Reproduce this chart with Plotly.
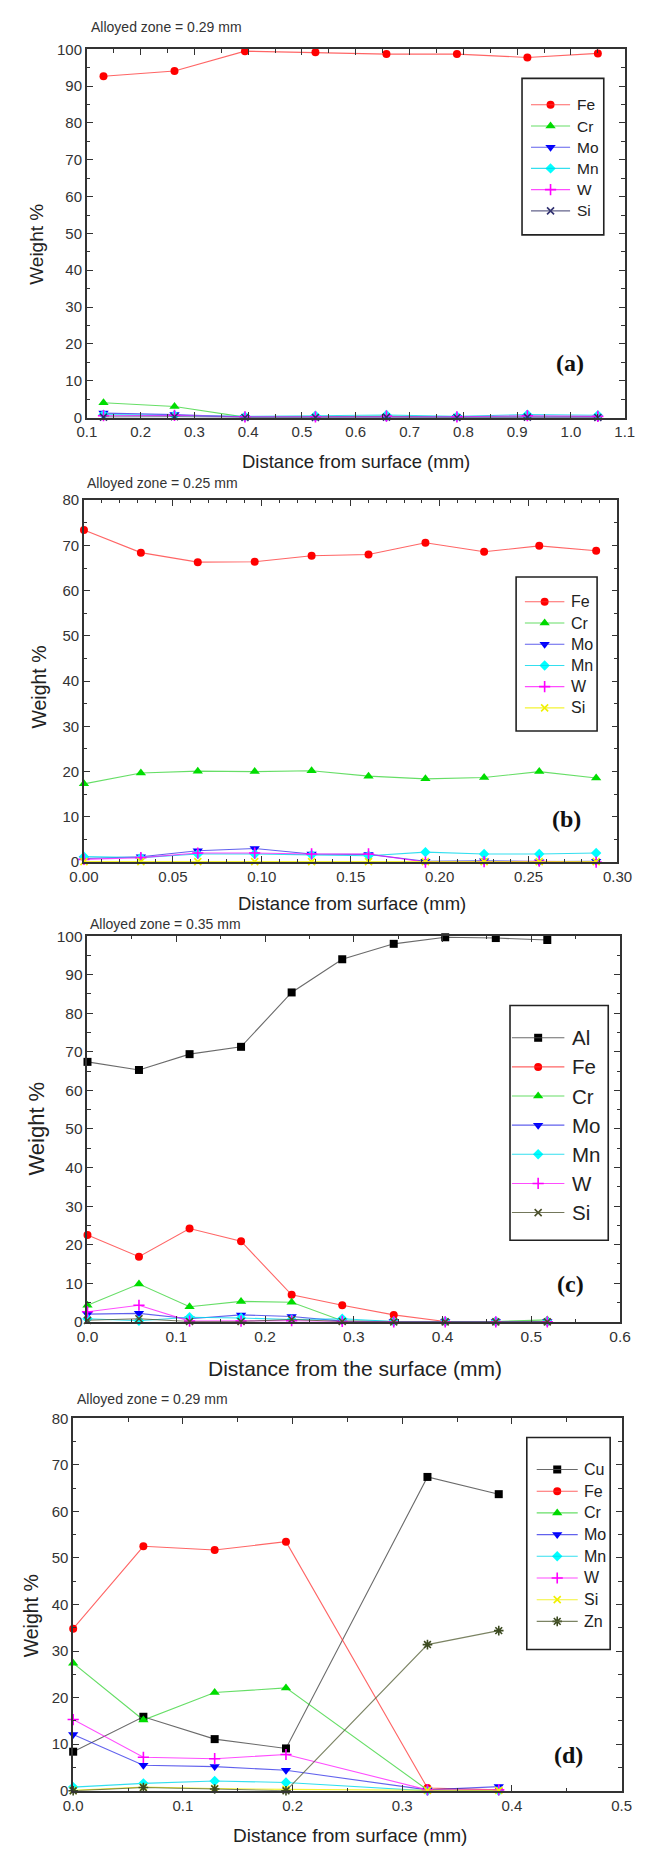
import plotly.graph_objects as go

W, H = 649, 1854

# ---------------- data ----------------
# Panel (a)
A_X = [0.131, 0.263, 0.394, 0.525, 0.657, 0.788, 0.919, 1.050]
A_FE = [92.7, 94.1, 99.5, 99.2, 98.7, 98.7, 97.8, 98.9]
A_CR = [4.0, 3.0, 0.1, 0.2, 0.3, 0.1, 0.2, 0.2]
A_MO = [1.2, 0.8, 0.1, 0.1, 0.1, 0.1, 0.3, 0.1]
A_MN = [0.8, 0.6, 0.3, 0.5, 0.7, 0.3, 0.8, 0.6]
A_W = [0.5, 0.6, 0.2, 0.2, 0.4, 0.2, 0.5, 0.3]
A_SI = [0.1, 0.2, 0.0, 0.0, 0.1, 0.0, 0.1, 0.0]

# Panel (b)
B_X = [0.0, 0.032, 0.064, 0.096, 0.128, 0.160, 0.192, 0.225, 0.256, 0.288]
B_FE = [73.4, 68.4, 66.3, 66.4, 67.7, 68.0, 70.6, 68.6, 69.9, 68.8]
B_CR = [17.3, 19.7, 20.1, 20.0, 20.2, 19.0, 18.4, 18.7, 20.0, 18.6]
B_MO = [0.8, 1.2, 2.5, 3.0, 1.8, 1.7, 0.2, 0.3, 0.1, 0.2]
B_MN = [1.2, 1.0, 1.8, 1.8, 1.6, 1.4, 2.2, 1.8, 1.8, 2.0]
B_W = [0.6, 1.0, 2.0, 2.0, 1.8, 1.8, 0.0, 0.1, 0.2, 0.0]
B_SI = [0.1, 0.1, 0.1, 0.1, 0.1, 0.1, 0.1, 0.1, 0.1, 0.1]

# Panel (c)
C_X = [0.0, 0.058, 0.115, 0.173, 0.230, 0.287, 0.345, 0.403, 0.460, 0.518]
C_AL = [67.4, 65.3, 69.4, 71.3, 85.4, 94.0, 98.0, 99.7, 99.5, 99.0]
C_FE = [22.5, 16.9, 24.2, 20.9, 7.0, 4.3, 1.8, 0.1, 0.1, 0.1]
C_CR = [4.3, 9.8, 3.9, 5.3, 5.1, 0.3, 0.1, 0.1, 0.1, 0.5]
C_MO = [2.0, 2.2, 0.8, 1.8, 1.4, 0.2, 0.1, 0.1, 0.1, 0.1]
C_MN = [0.8, 0.3, 1.2, 1.0, 0.6, 0.8, 0.1, 0.1, 0.1, 0.1]
C_W = [2.6, 4.3, 0.2, 0.2, 0.3, 0.1, 0.0, 0.0, 0.0, 0.0]
C_SI = [0.4, 0.8, 0.1, 0.1, 0.6, 0.1, 0.0, 0.0, 0.0, 0.0]

# Panel (d)
D_X = [0.0, 0.064, 0.129, 0.194, 0.323, 0.388]
D_CU = [8.4, 15.9, 11.1, 9.1, 67.4, 63.7]
D_FE = [34.8, 52.5, 51.7, 53.5, 0.6, 0.2]
D_CR = [27.4, 15.2, 21.1, 22.1, 0.2, 0.0]
D_MO = [12.1, 5.5, 5.2, 4.4, 0.2, 0.9]
D_MN = [0.8, 1.6, 2.1, 1.8, 0.0, 0.0]
D_W = [15.3, 7.2, 6.9, 7.8, 0.2, 0.2]
D_SI = [0.1, 0.8, 0.5, 0.3, 0.1, 0.1]
D_ZN = [0.0, 0.7, 0.4, 0.0, 31.4, 34.4]

ZONE_TEXT = ["Alloyed zone = 0.29 mm", "Alloyed zone = 0.25 mm",
             "Alloyed zone = 0.35 mm", "Alloyed zone = 0.29 mm"]
X_TITLES = ["Distance from surface (mm)", "Distance from surface (mm)",
            "Distance from the surface (mm)", "Distance from surface (mm)"]
PANEL_TAGS = ["(a)", "(b)", "(c)", "(d)"]

# ---------------- styles ----------------
# symbol, marker color, line color, marker size
STY = {
    "Al": ("square", "#000000", "rgba(80,80,80,0.85)", 8),
    "Cu": ("square", "#000000", "rgba(80,80,80,0.85)", 8),
    "Fe": ("circle", "#ff0000", "rgba(255,50,50,0.75)", 8),
    "Cr": ("triangle-up", "#00dd00", "rgba(0,200,0,0.6)", 9),
    "Mo": ("triangle-down", "#0000ff", "rgba(30,30,230,0.7)", 9),
    "Mn": ("diamond", "#00ffff", "rgba(0,215,235,0.8)", 8),
    "W": ("cross-thin", "#ff00ff", "rgba(255,0,255,0.7)", 8),
    "Si_a": ("x-thin", "#303070", "rgba(60,60,110,0.8)", 7),
    "Si_b": ("x-thin", "#f0f000", "rgba(240,240,0,0.8)", 7),
    "Si_c": ("x-thin", "#4a4f2a", "rgba(80,85,50,0.8)", 7),
    "Zn": ("asterisk", "#3c4a20", "rgba(90,100,60,0.8)", 8),
}

PANELS = [
    dict(x=A_X, series=[("Fe", "Fe", A_FE), ("Cr", "Cr", A_CR), ("Mo", "Mo", A_MO),
                        ("Mn", "Mn", A_MN), ("W", "W", A_W), ("Si", "Si_a", A_SI)],
         px=(75.3, 639.3), py=(40.7, 412.3), xr=[0.1, 1.1], dt=0.1, mdt=0.05, fmt=".1f",
         yr=[0, 100], fs_t=15, fs_x=18.5, fs_y=19, zone=(78, 18), xt=(358, 457), yt=(23, 237),
         tag=(582, 357),
         leg=dict(box=(531.6, 70, 617.3, 228), y0=96.7, dy=21.4, l0=541, l1=582, tx=587, fs=15.5)),
    dict(x=B_X, series=[("Fe", "Fe", B_FE), ("Cr", "Cr", B_CR), ("Mo", "Mo", B_MO),
                        ("Mn", "Mn", B_MN), ("W", "W", B_W), ("Si", "Si_b", B_SI)],
         px=(72.3, 631.7), py=(495.7, 861), xr=[0, 0.30], dt=0.05, mdt=0.01, fmt=".2f",
         yr=[0, 80], fs_t=15, fs_x=18.5, fs_y=19.5, zone=(73, 478), xt=(353, 903), yt=(25, 684),
         tag=(578, 817),
         leg=dict(box=(525.4, 573.3, 610.3, 728.7), y0=598.3, dy=21.4, l0=534.6, l1=576, tx=581, fs=16)),
    dict(x=C_X, series=[("Al", "Al", C_AL), ("Fe", "Fe", C_FE), ("Cr", "Cr", C_CR),
                        ("Mo", "Mo", C_MO), ("Mn", "Mn", C_MN), ("W", "W", C_W),
                        ("Si", "Si_c", C_SI)],
         px=(76, 634.4), py=(935.7, 1325), xr=[0, 0.6], dt=0.1, mdt=0.05, fmt=".1f",
         yr=[0, 100], fs_t=15.5, fs_x=21, fs_y=22, zone=(77, 923), xt=(356, 1372), yt=(23, 1130),
         tag=(582, 1287),
         leg=dict(box=(519, 1005.7, 622, 1242.7), y0=1038.3, dy=29.4, l0=521, l1=576, tx=582, fs=20.5)),
    dict(x=D_X, series=[("Cu", "Cu", D_CU), ("Fe", "Fe", D_FE), ("Cr", "Cr", D_CR),
                        ("Mo", "Mo", D_MO), ("Mn", "Mn", D_MN), ("W", "W", D_W),
                        ("Si", "Si_b", D_SI), ("Zn", "Zn", D_ZN)],
         px=(61, 636), py=(1422.3, 1798.3), xr=[0, 0.5], dt=0.1, mdt=0.05, fmt=".1f",
         yr=[0, 80], fs_t=15, fs_x=19, fs_y=19.5, zone=(63, 1403), xt=(351, 1843), yt=(17, 1622),
         tag=(580, 1762),
         leg=dict(box=(536.6, 1441.7, 624, 1655.7), y0=1474, dy=21.9, l0=547, l1=590, tx=594, fs=16)),
]

FONT = "Liberation Sans, Arial, sans-serif"
AXC = "#333333"


def marker_dict(key):
    sym, mc, lc, sz = STY[key]
    thin = sym.endswith("-thin") or sym == "asterisk"
    if thin:
        return dict(symbol=sym, color=mc, size=sz, line=dict(color=mc, width=1.6))
    return dict(symbol=sym, color=mc, size=sz, line=dict(width=0))


fig = go.Figure()
layout = dict(width=W, height=H, margin=dict(l=0, r=0, t=0, b=0),
              paper_bgcolor="white", plot_bgcolor="rgba(0,0,0,0)", showlegend=False)
shapes, annots = [], []

for i, p in enumerate(PANELS, start=1):
    xa, ya = ("x" if i == 1 else f"x{i}"), ("y" if i == 1 else f"y{i}")
    xname, yname = ("xaxis" if i == 1 else f"xaxis{i}"), ("yaxis" if i == 1 else f"yaxis{i}")
    for name, key, vals in p["series"]:
        sym, mc, lc, sz = STY[key]
        fig.add_trace(go.Scatter(x=p["x"], y=vals, xaxis=xa, yaxis=ya, mode="lines+markers",
                                 name=name, line=dict(color=lc, width=1.1),
                                 marker=marker_dict(key), cliponaxis=False))
    common = dict(showline=True, linecolor=AXC, linewidth=1.6, mirror="ticks",
                  ticks="inside", ticklen=6, tickwidth=1.3, tickcolor=AXC,
                  showgrid=False, zeroline=False,
                  tickfont=dict(family=FONT, size=p["fs_t"], color="#333333"))
    layout[xname] = dict(domain=[p["px"][0] / W, p["px"][1] / W], range=p["xr"],
                         dtick=p["dt"], tick0=0, tickformat=p["fmt"], anchor=ya,
                         minor=dict(dtick=p["mdt"], ticks="inside", ticklen=3.5,
                                    tickcolor=AXC, tickwidth=1.1),
                         **common)
    layout[yname] = dict(domain=[1 - p["py"][1] / H, 1 - p["py"][0] / H], range=p["yr"],
                         dtick=10, tick0=0, anchor=xa,
                         minor=dict(dtick=5, ticks="inside", ticklen=3.5,
                                    tickcolor=AXC, tickwidth=1.1),
                         **common)
    # texts
    annots.append(dict(text=ZONE_TEXT[i - 1], x=p["zone"][0], y=p["zone"][1], xref="x5", yref="y5",
                       xanchor="left", yanchor="middle", showarrow=False,
                       font=dict(family=FONT, size=14, color="#333333")))
    annots.append(dict(text=X_TITLES[i - 1], x=p["xt"][0], y=p["xt"][1], xref="x5", yref="y5",
                       xanchor="center", yanchor="middle", showarrow=False,
                       font=dict(family=FONT, size=p["fs_x"], color="#222222")))
    annots.append(dict(text="Weight %", x=p["yt"][0], y=p["yt"][1], xref="x5", yref="y5",
                       xanchor="center", yanchor="middle", showarrow=False, textangle=-90,
                       font=dict(family=FONT, size=p["fs_y"], color="#222222")))
    annots.append(dict(text="<b>" + PANEL_TAGS[i - 1] + "</b>", x=p["tag"][0], y=p["tag"][1],
                       xref="x5", yref="y5", xanchor="center", yanchor="middle", showarrow=False,
                       font=dict(family="Liberation Serif, Times New Roman, serif", size=24,
                                 color="#111111")))
    # legend box
    lg = p["leg"]
    shapes.append(dict(type="rect", xref="x5", yref="y5", x0=lg["box"][0], y0=lg["box"][1],
                       x1=lg["box"][2], y1=lg["box"][3], line=dict(color="#222222", width=1.6)))
    for k, (name, key, vals) in enumerate(p["series"]):
        ey = lg["y0"] + k * lg["dy"]
        sym, mc, lc, sz = STY[key]
        shapes.append(dict(type="line", xref="x5", yref="y5", x0=lg["l0"], x1=lg["l1"], y0=ey, y1=ey,
                           line=dict(color=lc, width=1.1)))
        fig.add_trace(go.Scatter(x=[(lg["l0"] + lg["l1"]) / 2], y=[ey], xaxis="x5", yaxis="y5",
                                 mode="markers", marker=marker_dict(key), hoverinfo="skip",
                                 cliponaxis=False))
        annots.append(dict(text=name, x=lg["tx"], y=ey, xref="x5", yref="y5", xanchor="left",
                           yanchor="middle", showarrow=False,
                           font=dict(family=FONT, size=lg["fs"], color="#222222")))

# pixel-space overlay axis for decorations
layout["xaxis5"] = dict(domain=[0, 1], range=[0, W], visible=False, fixedrange=True, anchor="y5")
layout["yaxis5"] = dict(domain=[0, 1], range=[H, 0], visible=False, fixedrange=True, anchor="x5")
layout["shapes"] = shapes
layout["annotations"] = annots
fig.update_layout(**layout)
fig.write_html("out.html")
